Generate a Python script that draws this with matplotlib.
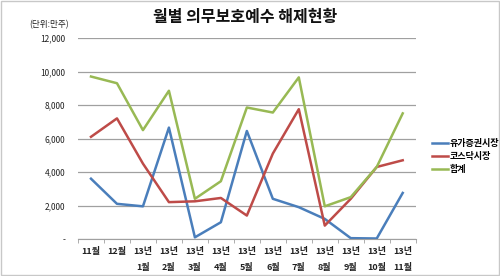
import matplotlib
matplotlib.use("Agg")
import matplotlib.pyplot as plt
from matplotlib.ticker import FixedLocator, FuncFormatter

plt.rcParams['font.family'] = ['Noto Sans CJK KR', 'DejaVu Sans']

categories = ["11월", "12월", "13년\n1월", "13년\n2월", "13년\n3월", "13년\n4월", "13년\n5월",
              "13년\n6월", "13년\n7월", "13년\n8월", "13년\n9월", "13년\n10월", "13년\n11월"]
kospi = [3600, 2100, 1950, 6650, 100, 1000, 6450, 2400, 1900, 1200, 50, 30, 2750]
kosdaq = [6100, 7200, 4500, 2200, 2250, 2450, 1400, 5100, 7750, 800, 2400, 4300, 4700]
total = [9700, 9300, 6500, 8850, 2400, 3450, 7850, 7550, 9650, 1950, 2500, 4300, 7500]
series_names = ["유가증권시장", "코스닥시장", "합계"]
colors = ["#4A7EBB", "#BE4B48", "#98B954"]
yticks = [0, 2000, 4000, 6000, 8000, 10000, 12000]

fig = plt.figure(figsize=(5, 2.76), dpi=100)
fig.patch.set_facecolor("white")
ax = fig.add_axes([78/500, 1-239/276, (415.7-78)/500, (239-38)/276])

x = list(range(len(categories)))
for vals, name, c in zip([kospi, kosdaq, total], series_names, colors):
    ax.plot(x, vals, color=c, lw=1.8, label=name)

ax.set_xlim(-0.5, len(categories)-0.5)
ax.set_ylim(0, 12000)
ax.yaxis.set_major_locator(FixedLocator(yticks))
ax.yaxis.set_major_formatter(FuncFormatter(lambda v, p: "-" if v == 0 else f"{int(v):,}"))
ax.grid(axis='y', color='#A0A0A0', lw=0.9)
ax.set_axisbelow(True)
for s in ["top", "right", "left"]:
    ax.spines[s].set_visible(False)
ax.spines["bottom"].set_color("#A0A0A0")
ax.tick_params(axis='y', length=0, labelsize=6, pad=9, colors="#222222")
ax.set_xticks(x)
ax.set_xticklabels(categories, fontsize=6.5, fontweight='bold', linespacing=1.9)
ax.tick_params(axis='x', length=0, pad=6, colors="#222222")
ax.set_xticks([i - 0.5 for i in range(len(categories)+1)], minor=True)
ax.tick_params(axis='x', which='minor', length=3, color="#A0A0A0")
for lab in ax.get_xticklabels():
    lab.set_verticalalignment('top')

fig.text(0.49, 1-17/276, "월별 의무보호예수 해제현황", ha='center', va='center',
         fontsize=11.5, fontweight='bold', color="#111111")
fig.text(69/500, 1-25/276, "(단위:만주)", ha='right', va='center', fontsize=6.2, color="#222222")

leg = fig.legend(loc='upper left', bbox_to_anchor=(424/500, 1-131/276), frameon=False,
                 fontsize=6.5, handlelength=1.8, handletextpad=0.1, labelspacing=0.45)
for t in leg.get_texts():
    t.set_fontweight('bold')

border = plt.Rectangle((0.002, 0.003), 0.995, 0.993, transform=fig.transFigure,
                       fill=False, edgecolor="#C8C8C8", lw=1)
fig.add_artist(border)

fig.savefig("out.png", dpi=100)
